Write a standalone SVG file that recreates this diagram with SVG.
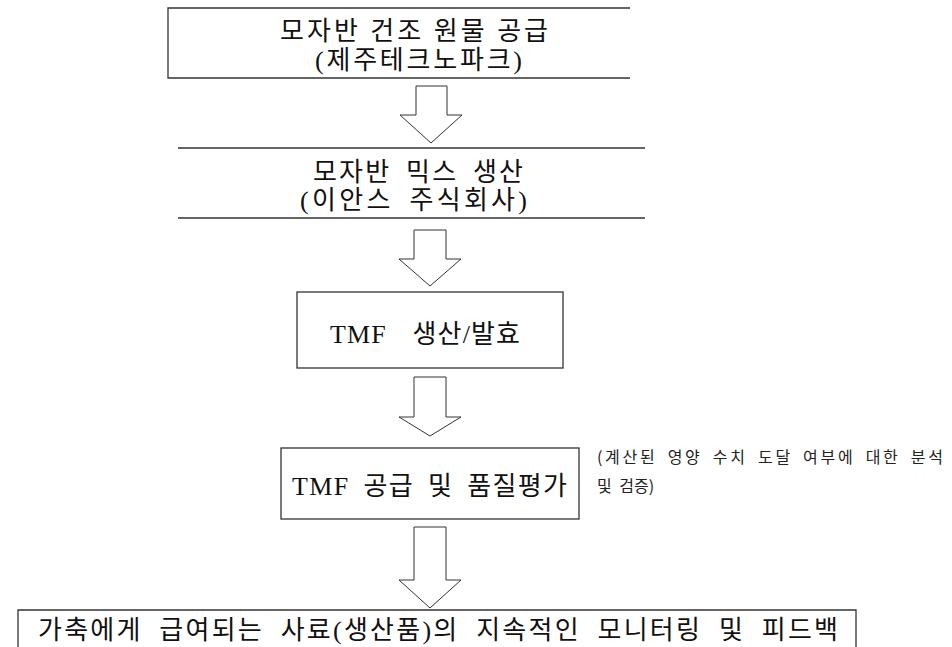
<svg xmlns="http://www.w3.org/2000/svg" width="952" height="647" viewBox="0 0 952 647">
<style>
.box{fill:none;stroke:#333;stroke-width:1.3}
.arr{fill:#fff;stroke:#333;stroke-width:1}
.t{font-family:"Liberation Serif","Noto Sans CJK KR",serif;font-size:26px;fill:#111}
.n{font-family:"Noto Sans CJK KR","Liberation Sans",sans-serif;font-size:16px;fill:#222;word-spacing:4px}
</style>
<rect width="952" height="647" fill="#fff"/>
<g id="node1">
<path class="box" d="M630,8 H168 V78 H630"/>
<text class="t" x="280" y="40" textLength="268" lengthAdjust="spacing">모자반 건조 원물 공급</text>
<text class="t" x="315" y="69" textLength="207" lengthAdjust="spacing">(제주테크노파크)</text>
</g>
<g id="node2">
<path class="box" d="M178,148 H645 M178,218 H645"/>
<text class="t" x="313" y="181" word-spacing="6" textLength="210" lengthAdjust="spacing">모자반 믹스 생산</text>
<text class="t" x="300" y="209" word-spacing="6" textLength="227" lengthAdjust="spacing">(이안스 주식회사)</text>
</g>
<g id="node3">
<rect class="box" x="297" y="292" width="266" height="76"/>
<text class="t" x="330" y="343" word-spacing="18" textLength="190" lengthAdjust="spacing">TMF 생산/발효</text>
</g>
<g id="node4">
<rect class="box" x="281" y="448" width="298" height="71"/>
<text class="t" x="292" y="495" word-spacing="6" textLength="275" lengthAdjust="spacing">TMF 공급 및 품질평가</text>
<text class="n" x="597" y="463" textLength="346" lengthAdjust="spacing">(계산된 영양 수치 도달 여부에 대한 분석</text>
<text class="n" x="597" y="492">및 검증)</text>
</g>
<g id="node5">
<path class="box" d="M18,647 V610 H856 V647"/>
<text class="t" x="38" y="639" word-spacing="8" textLength="800" lengthAdjust="spacing">가축에게 급여되는 사료(생산품)의 지속적인 모니터링 및 피드백</text>
</g>
<g id="connectors">
<polygon class="arr" points="416,86 447,86 447,115 462,115 431,143 400,115 416,115"/>
<polygon class="arr" points="414,230 446,230 446,259 461,259 430,286 399,259 414,259"/>
<polygon class="arr" points="414,377 446,377 446,417 461,417 430,436 399,417 414,417"/>
<polygon class="arr" points="414,527 446,527 446,580 461,580 430,608 399,580 414,580"/>
</g>
</svg>
